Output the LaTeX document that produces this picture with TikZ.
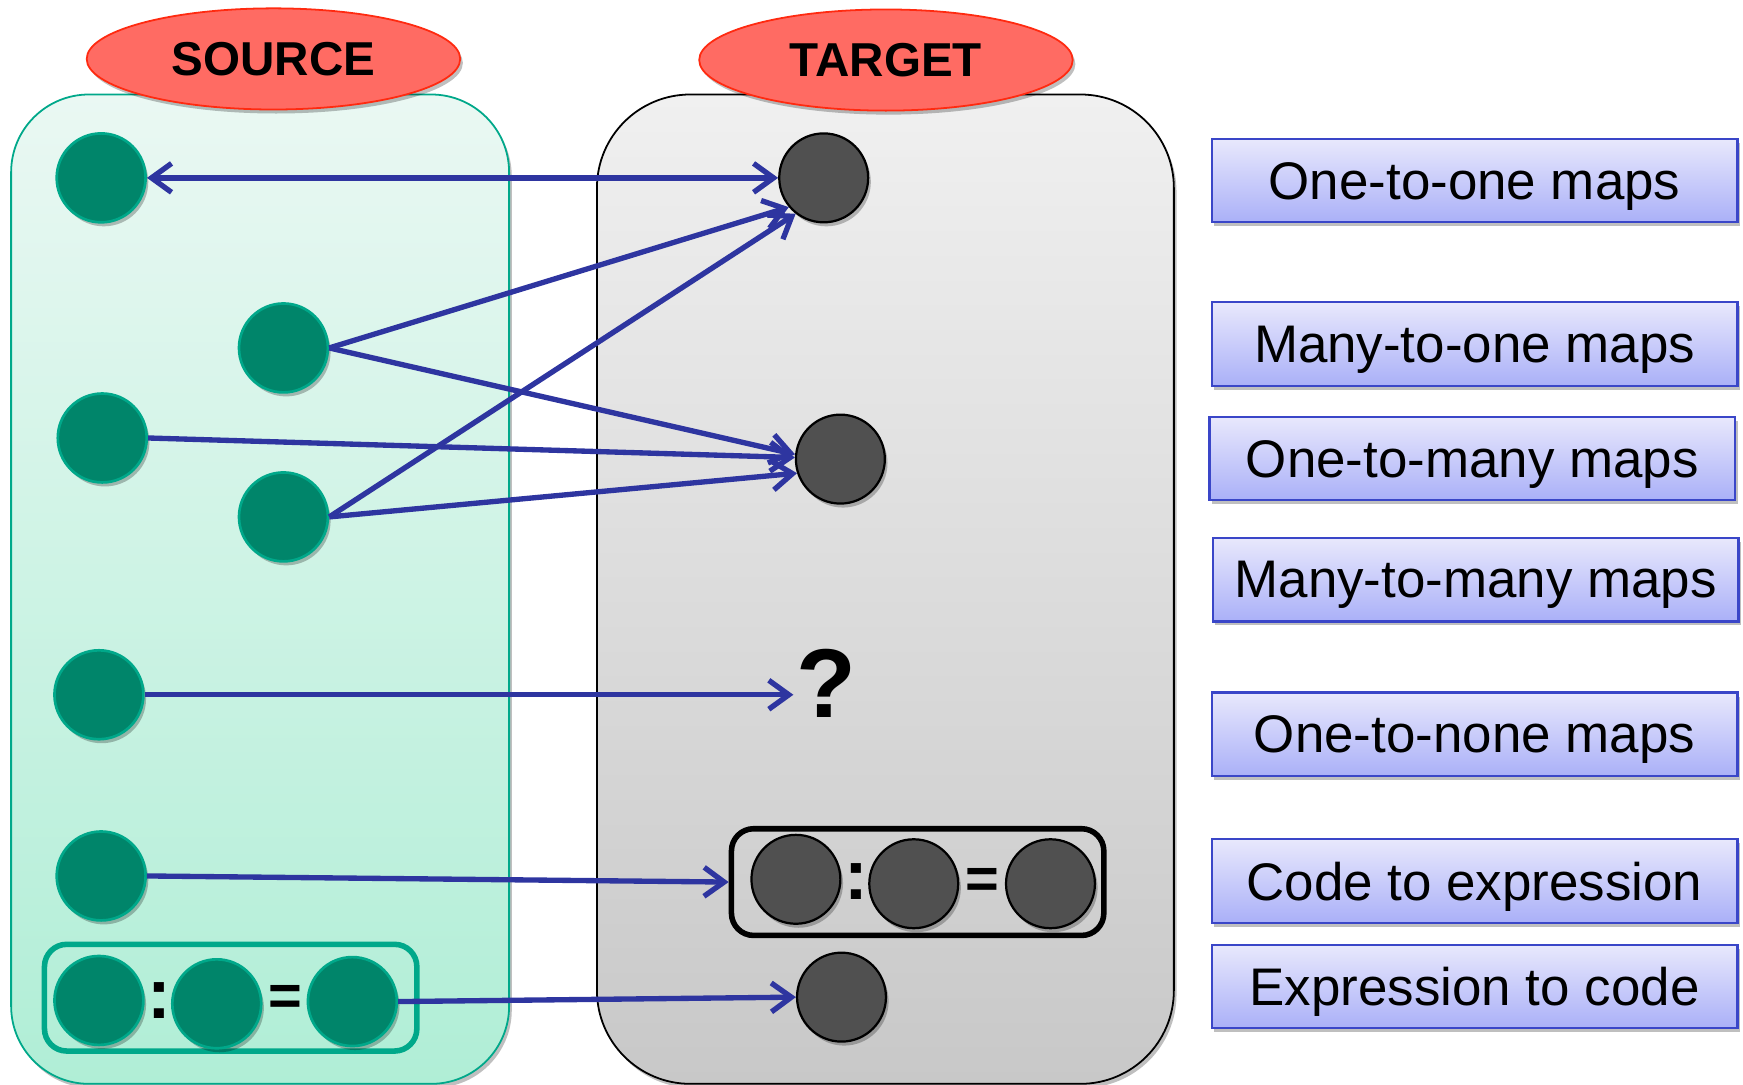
\documentclass[tikz,border=0pt]{standalone}
\usepackage{fontspec}
\setmainfont{Liberation Sans}
\usetikzlibrary{arrows.meta,shapes.geometric,shadows}
\definecolor{srcfill}{HTML}{00856A}
\definecolor{srcline}{HTML}{00A88A}
\definecolor{tgtfill}{HTML}{505050}
\definecolor{arrowblue}{HTML}{2E35A0}
\definecolor{titlefill}{HTML}{FF6B63}
\definecolor{titleline}{HTML}{FF2A10}
\definecolor{boxtop}{HTML}{E8E8FC}
\definecolor{boxbot}{HTML}{AAB0F8}
\definecolor{boxline}{HTML}{3A46C8}
\definecolor{srctop}{HTML}{EAF8F3}
\definecolor{srcbot}{HTML}{B0EED6}
\definecolor{tgttop}{HTML}{F0F0F0}
\definecolor{tgtbot}{HTML}{C8C8C8}
\begin{document}
\begin{tikzpicture}[x=0.5pt,y=-0.5pt,
  barb/.tip={Straight Barb[length=9pt,width=13pt]},
  softshadow/.style={drop shadow={shadow xshift=1.2pt,shadow yshift=-1.8pt,opacity=0.25,fill=black}},
  srcdot/.style={circle,minimum size=40pt,inner sep=0pt,fill=srcfill,draw=srcline,line width=1.2pt,softshadow},
  tgtdot/.style={circle,minimum size=40pt,inner sep=0pt,fill=tgtfill,draw=black,line width=1pt,softshadow},
  titleoval/.style={ellipse,minimum width=168pt,minimum height=45.5pt,inner sep=0pt,fill=titlefill,draw=titleline,line width=0.8pt,font=\fontsize{21.4}{24}\selectfont\bfseries,softshadow},
  mapbox/.style={rectangle,minimum width=236.5pt,minimum height=37.5pt,inner sep=0pt,text depth=0pt,top color=boxtop,bottom color=boxbot,draw=boxline,line width=1pt,font=\fontsize{23.8}{28}\selectfont,softshadow},
  srcpanel/.style={rectangle,rounded corners=35pt,minimum width=224pt,minimum height=445pt,top color=srctop,bottom color=srcbot,draw=srcline,line width=0.8pt,softshadow},
  tgtpanel/.style={rectangle,rounded corners=42pt,minimum width=259.5pt,minimum height=445pt,top color=tgttop,bottom color=tgtbot,draw=black,line width=0.8pt,softshadow},
  grp/.style={rectangle,rounded corners=10pt,minimum width=167.5pt,minimum height=48pt,line width=2.5pt},
  link/.style={draw=arrowblue,line width=2.4pt,-barb},
  linkboth/.style={draw=arrowblue,line width=2.4pt,barb-barb},
  colonsym/.style={font=\fontsize{32}{34}\selectfont\bfseries,inner sep=0pt},
  eqsym/.style={font=\fontsize{26}{30}\selectfont\bfseries,inner sep=0pt},
]
\useasboundingbox (0,0) rectangle (1568,976);

% panels
\node[srcpanel] (srcpanel) at (234,530) {};
\node[tgtpanel] (tgtpanel) at (796.5,530) {};

% titles
\node[titleoval] (srctitle) at (246,53) {\raisebox{-1.5pt}{SOURCE}};
\node[titleoval] (tgttitle) at (797,54) {\raisebox{-1.5pt}{TARGET}};

% source dots
\node[srcdot] (s1) at (91,160) {};
\node[srcdot] (s2) at (255,313) {};
\node[srcdot] (s3) at (92,394) {};
\node[srcdot] (s4) at (255,465) {};
\node[srcdot] (s5) at (89,625) {};
\node[srcdot] (s6) at (91,788) {};

% source group
\node[grp,draw=srcline] (sg) at (207.5,897.5) {};
\node[srcdot] (sg1) at (89,900) {};
\node[srcdot] (sg2) at (195,903) {};
\node[srcdot] (sg3) at (317,901) {};
\node[colonsym] (sgc) at (143,900) {:};
\node[eqsym] (sge) at (257,900) {=};

% target dots
\node[tgtdot] (t1) at (741,160) {};
\node[tgtdot] (t2) at (756,413) {};
\node[font=\fontsize{44}{48}\selectfont\bfseries,inner sep=1pt] (q) at (743,615) {?};
\node[grp,draw=black] (tg) at (825.5,793.5) {};
\node[tgtdot] (tg1) at (716,791) {};
\node[tgtdot] (tg2) at (822,795) {};
\node[tgtdot] (tg3) at (945,795) {};
\node[colonsym] (tgc) at (770,793) {:};
\node[eqsym] (tge) at (884,795) {=};
\node[tgtdot] (t3) at (757,897) {};

% connectors
\draw[linkboth] (s1.east) -- (t1.west);
\draw[link] (s2.east) -- (t1.220);
\draw[link] (s2.east) -- (t2.174);
\draw[link] (s3.east) -- (t2.178);
\draw[link] (s4.east) -- (t1.232);
\draw[link] (s4.east) -- (t2.198);
\draw[link] (s5.east) -- (s5.east -| q.west);
\draw[link] (s6.east) -- (tg.west);
\draw[link] (sg3.east) -- (t3.west);

% legend boxes
\node[mapbox] (b1) at (1326.5,162.5) {One-to-one maps};
\node[mapbox] (b2) at (1326.5,309.5) {Many-to-one maps};
\node[mapbox] (b3) at (1324.5,412.5) {One-to-many maps};
\node[mapbox] (b4) at (1327.5,521.5) {Many-to-many maps};
\node[mapbox] (b5) at (1326.5,660.5) {One-to-none maps};
\node[mapbox] (b6) at (1326.5,792.5) {Code to expression};
\node[mapbox] (b7) at (1326.5,887.5) {Expression to code};
\end{tikzpicture}
\end{document}
